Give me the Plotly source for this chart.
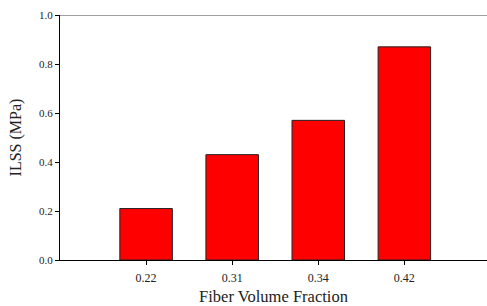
import plotly.graph_objects as go

categories = ["0.22", "0.31", "0.34", "0.42"]
positions = [1, 2, 3, 4]
ilss = [0.21, 0.43, 0.57, 0.87]
y_ticks = [0.0, 0.2, 0.4, 0.6, 0.8, 1.0]
y_tick_labels = ["0.0", "0.2", "0.4", "0.6", "0.8", "1.0"]

fig = go.Figure()
fig.add_trace(go.Bar(
    x=positions, y=ilss, width=0.61,
    marker=dict(color="#FF0000", line=dict(color="#222222", width=1)),
))

font_family = "Liberation Serif, Times New Roman, serif"
fig.update_layout(
    width=487, height=306,
    margin=dict(l=60, r=0, t=15, b=46),
    paper_bgcolor="white", plot_bgcolor="white",
    showlegend=False,
    font=dict(family=font_family, color="#222222"),
    xaxis=dict(
        range=[0, 4.96], tickvals=positions, ticktext=categories,
        showgrid=False, zeroline=False, automargin=False,
        showline=True, linecolor="black", linewidth=1,
        ticks="outside", ticklen=4, tickcolor="black",
        ticklabelstandoff=3,
        tickfont=dict(size=12, family=font_family),
        title=dict(text="Fiber Volume Fraction", font=dict(size=16.5, family=font_family), standoff=6),
    ),
    yaxis=dict(
        range=[0, 1.0], tickvals=y_ticks, ticktext=y_tick_labels,
        showgrid=False, zeroline=False, automargin=False,
        showline=True, linecolor="black", linewidth=1,
        ticks="outside", ticklen=4, tickcolor="black",
        tickfont=dict(size=11, family=font_family),
        title=dict(text="ILSS (MPa)", font=dict(size=16, family=font_family), standoff=13),
    ),
    shapes=[dict(type="line", xref="paper", yref="y", x0=0, x1=1, y0=1.0, y1=1.0,
                 line=dict(color="#808080", width=1.5))],
)

fig.write_html("out.html", config={"displayModeBar": False},
               post_script="document.body.style.margin='0';document.body.style.overflow='hidden';")
